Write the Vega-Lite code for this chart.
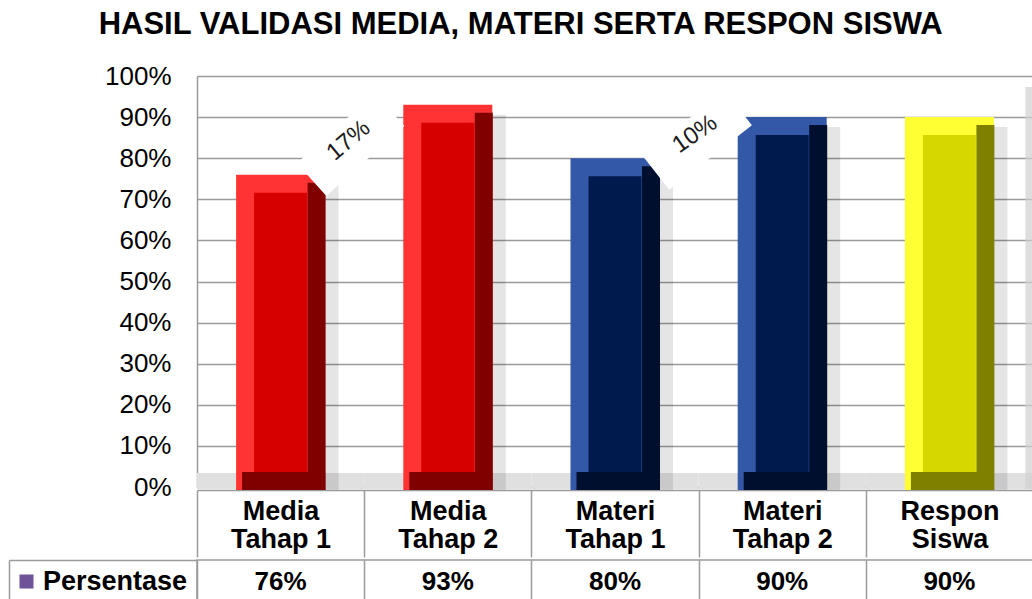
{
  "$schema": "https://vega.github.io/schema/vega-lite/v6.json",
  "autosize": {"type": "pad"},
  "padding": {"left": 7, "top": 9, "right": 0, "bottom": 0},
  "background": "white",
  "title": {"text": "HASIL VALIDASI MEDIA, MATERI SERTA RESPON SISWA", "font": "Liberation Sans", "fontSize": 31, "fontWeight": "bold", "color": "#000000", "anchor": "middle", "offset": 22},
  "datasets": {
    "hasil": [
      {"kategori": "Media Tahap 1", "nilai": 0.76, "grup": "merah", "seri": "Persentase", "selisih": "17%"},
      {"kategori": "Media Tahap 2", "nilai": 0.93, "grup": "merah", "seri": "Persentase", "selisih": ""},
      {"kategori": "Materi Tahap 1", "nilai": 0.80, "grup": "biru", "seri": "Persentase", "selisih": "10%"},
      {"kategori": "Materi Tahap 2", "nilai": 0.90, "grup": "biru", "seri": "Persentase", "selisih": ""},
      {"kategori": "Respon Siswa", "nilai": 0.90, "grup": "kuning", "seri": "Persentase", "selisih": ""}
    ]
  },
  "spacing": 0,
  "vconcat": [
    {
      "width": 836,
      "height": 411,
      "data": {"name": "hasil"},
      "view": {"stroke": null},
      "resolve": {"scale": {"color": "independent"}},
      "encoding": {
        "x": {"field": "kategori", "type": "nominal", "sort": null, "title": null, "scale": {"paddingInner": 0, "paddingOuter": 0},
          "axis": {"title": null, "labelAngle": 0, "labelExpr": "[slice(datum.label, 0, indexof(datum.label, ' ')), slice(datum.label, indexof(datum.label, ' ') + 1)]", "labelFont": "Liberation Sans", "labelFontSize": 27, "labelFontWeight": "bold", "labelColor": "#000000", "labelLineHeight": 28, "labelBaseline": "top", "labelPadding": -59, "tickBand": "extent", "tickSize": 67, "tickColor": "#9a9a9a", "tickWidth": 1.5, "domainColor": "#9a9a9a", "domainWidth": 1.5, "offset": 3, "grid": false}},
        "y": {"field": "nilai", "type": "quantitative", "title": null, "scale": {"domain": [0, 1], "nice": false},
          "axis": {"title": null, "values": [0, 0.1, 0.2, 0.3, 0.4, 0.5, 0.6, 0.7, 0.8, 0.9, 1], "format": ".0%", "labelFont": "Liberation Sans", "labelFontSize": 26, "labelColor": "#000000", "ticks": false, "labelPadding": 26, "domainColor": "#9a9a9a", "domainWidth": 1.5, "grid": true, "gridColor": "#9a9a9a", "gridWidth": 1.5}}
      },
      "layer": [
        {
          "mark": {"type": "bar", "width": {"band": 1}, "color": "#E0E0E0", "yOffset": -14, "y2Offset": 2},
          "encoding": {
            "y": {"datum": 0, "type": "quantitative", "title": null,
              "axis": {"title": null, "values": [0, 0.1, 0.2, 0.3, 0.4, 0.5, 0.6, 0.7, 0.8, 0.9, 1], "format": ".0%", "labelFont": "Liberation Sans", "labelFontSize": 26, "labelColor": "#000000", "ticks": false, "labelPadding": 26, "domainColor": "#9a9a9a", "domainWidth": 1.5, "grid": true, "gridColor": "#9a9a9a", "gridWidth": 1.5}},
            "y2": {"datum": 0}
          }
        },
        {
          "transform": [{"filter": "datum.kategori == 'Respon Siswa'"}],
          "mark": {"type": "bar", "width": 8, "xOffset": 80, "yOffset": 11, "y2Offset": 2, "color": "#D0D0D0", "opacity": 0.7},
          "encoding": {
            "y": {"datum": 1, "type": "quantitative", "title": null,
              "axis": {"title": null, "values": [0, 0.1, 0.2, 0.3, 0.4, 0.5, 0.6, 0.7, 0.8, 0.9, 1], "format": ".0%", "labelFont": "Liberation Sans", "labelFontSize": 26, "labelColor": "#000000", "ticks": false, "labelPadding": 26, "domainColor": "#9a9a9a", "domainWidth": 1.5, "grid": true, "gridColor": "#9a9a9a", "gridWidth": 1.5}},
            "y2": {"datum": 0}
          }
        },
        {
          "mark": {"type": "bar", "width": 14, "xOffset": 51, "yOffset": 10, "y2Offset": 3, "color": "#000000", "opacity": 0.1},
          "encoding": {"y2": {"datum": 0}}
        },
        {
          "mark": {"type": "bar", "width": 89, "y2Offset": 3},
          "encoding": {
            "y2": {"datum": 0},
            "color": {"field": "grup", "type": "nominal", "scale": {"domain": ["merah", "biru", "kuning"], "range": ["#FF3333", "#3358A8", "#FFFF33"]}, "legend": null}
          }
        },
        {
          "mark": {"type": "bar", "width": 83, "xOffset": 3, "yOffset": -15, "y2Offset": 3},
          "encoding": {
            "y": {"datum": 0, "type": "quantitative", "title": null,
              "axis": {"title": null, "values": [0, 0.1, 0.2, 0.3, 0.4, 0.5, 0.6, 0.7, 0.8, 0.9, 1], "format": ".0%", "labelFont": "Liberation Sans", "labelFontSize": 26, "labelColor": "#000000", "ticks": false, "labelPadding": 26, "domainColor": "#9a9a9a", "domainWidth": 1.5, "grid": true, "gridColor": "#9a9a9a", "gridWidth": 1.5}},
            "y2": {"datum": 0},
            "color": {"field": "grup", "type": "nominal", "scale": {"domain": ["merah", "biru", "kuning"], "range": ["#800000", "#000F2E", "#808000"]}, "legend": null}
          }
        },
        {
          "mark": {"type": "bar", "width": 18, "xOffset": 36, "yOffset": 8, "y2Offset": 3},
          "encoding": {
            "y2": {"datum": 0},
            "color": {"field": "grup", "type": "nominal", "scale": {"domain": ["merah", "biru", "kuning"], "range": ["#800000", "#000F2E", "#808000"]}, "legend": null}
          }
        },
        {
          "mark": {"type": "bar", "width": 53, "yOffset": 18, "y2Offset": -15},
          "encoding": {
            "y2": {"datum": 0},
            "color": {"field": "grup", "type": "nominal", "scale": {"domain": ["merah", "biru", "kuning"], "range": ["#D60000", "#001A4E", "#D6D600"]}, "legend": null}
          }
        },
        {
          "transform": [{"filter": "datum.selisih == '17%'"}],
          "mark": {"type": "point", "shape": "M-1,-0.42L1,-0.42L1,0.42L-1,0.42Z", "size": 11000, "angle": -42, "filled": true, "fill": "#FFFFFF", "opacity": 1, "strokeWidth": 0, "xOffset": 70, "yOffset": -30}
        },
        {
          "transform": [{"filter": "datum.selisih == '17%'"}],
          "mark": {"type": "text", "font": "Liberation Sans", "fontSize": 24, "color": "#1a1a1a", "angle": -40, "xOffset": 68, "yOffset": -34},
          "encoding": {"text": {"field": "selisih"}}
        },
        {
          "transform": [{"filter": "datum.selisih == '10%'"}],
          "mark": {"type": "point", "shape": "M-1,-0.42L1,-0.42L1,0.42L-1,0.42Z", "size": 11000, "angle": -38, "filled": true, "fill": "#FFFFFF", "opacity": 1, "strokeWidth": 0, "xOffset": 82, "yOffset": -18}
        },
        {
          "transform": [{"filter": "datum.selisih == '10%'"}],
          "mark": {"type": "text", "font": "Liberation Sans", "fontSize": 24, "color": "#1a1a1a", "angle": -35, "xOffset": 80, "yOffset": -24},
          "encoding": {"text": {"field": "selisih"}}
        }
      ]
    },
    {
      "width": 836,
      "height": 40,
      "data": {"name": "hasil"},
      "view": {"stroke": "#9a9a9a", "strokeWidth": 1.5},
      "layer": [
        {
          "mark": {"type": "text", "font": "Liberation Sans", "fontSize": 26, "fontWeight": "bold", "color": "#000000", "dy": 2},
          "encoding": {
            "x": {"field": "kategori", "type": "nominal", "sort": null, "scale": {"paddingInner": 0, "paddingOuter": 0},
              "axis": {"title": null, "labels": false, "ticks": false, "domain": false, "grid": true, "tickBand": "extent", "gridColor": "#9a9a9a", "gridWidth": 1.5}},
            "y": {"field": "seri", "type": "nominal", "scale": {"paddingInner": 0, "paddingOuter": 0},
              "axis": {"title": null, "labels": false, "tickBand": "extent", "tickSize": -188, "offset": 188, "tickColor": "#9a9a9a", "tickWidth": 1.5, "domainColor": "#9a9a9a", "domainWidth": 1.5}},
            "text": {"field": "nilai", "type": "quantitative", "format": ".0%"}
          }
        },
        {
          "mark": {"type": "point", "filled": true, "opacity": 0},
          "encoding": {
            "fill": {"field": "seri", "type": "nominal", "scale": {"range": ["#6E5399"]},
              "legend": {"title": null, "orient": "none", "legendX": -184, "legendY": 492, "padding": 0, "symbolType": "square", "symbolSize": 196, "symbolOpacity": 1, "symbolStrokeWidth": 0, "labelFont": "Liberation Sans", "labelFontSize": 27, "labelFontWeight": "bold", "labelColor": "#000000", "labelOffset": 3}}
          }
        }
      ]
    }
  ]
}
